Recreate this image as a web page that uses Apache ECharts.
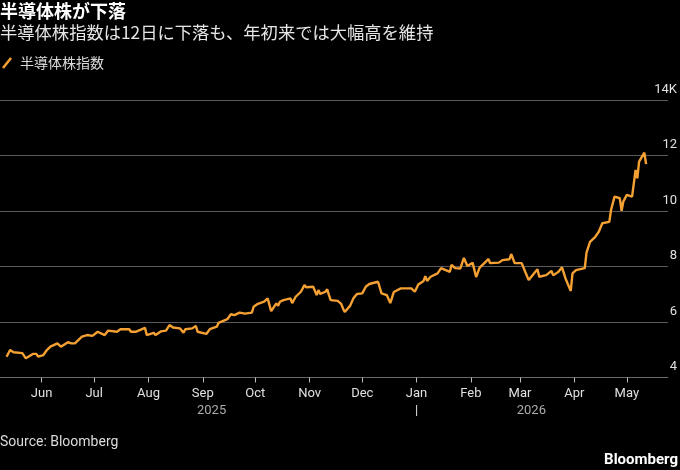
<!DOCTYPE html>
<html><head><meta charset="utf-8">
<script src="https://cdn.jsdelivr.net/npm/echarts@6/dist/echarts.min.js"></script>
<style>html,body{margin:0;padding:0;background:#000;}#c{width:680px;height:470px;}</style>
</head><body><div id="c"></div>
<script>
const dates = [
'2025-05-12','2025-05-14','2025-05-16','2025-05-21','2025-05-23','2025-05-27','2025-05-29','2025-05-30',
'2025-06-02','2025-06-04','2025-06-06','2025-06-10','2025-06-12','2025-06-16','2025-06-18','2025-06-20','2025-06-24','2025-06-27','2025-06-30',
'2025-07-03','2025-07-07','2025-07-09','2025-07-14','2025-07-16','2025-07-21','2025-07-22','2025-07-25','2025-07-30','2025-07-31',
'2025-08-04','2025-08-05','2025-08-08','2025-08-11','2025-08-13','2025-08-15','2025-08-19','2025-08-21','2025-08-22','2025-08-26','2025-08-28','2025-08-29',
'2025-09-03','2025-09-05','2025-09-09','2025-09-10','2025-09-15','2025-09-17','2025-09-19','2025-09-22','2025-09-25','2025-09-29','2025-09-30',
'2025-10-02','2025-10-06','2025-10-07','2025-10-08','2025-10-09','2025-10-10','2025-10-13','2025-10-14','2025-10-15','2025-10-17','2025-10-21','2025-10-22','2025-10-24','2025-10-27','2025-10-29','2025-10-30','2025-10-31',
'2025-11-03','2025-11-04','2025-11-05','2025-11-06','2025-11-07','2025-11-10','2025-11-11','2025-11-12','2025-11-13','2025-11-17','2025-11-19','2025-11-20','2025-11-21','2025-11-24','2025-11-26','2025-11-28',
'2025-12-01','2025-12-03','2025-12-05','2025-12-10','2025-12-12','2025-12-15','2025-12-17','2025-12-19','2025-12-23','2025-12-29','2025-12-31',
'2026-01-02','2026-01-05','2026-01-06','2026-01-07','2026-01-09','2026-01-13','2026-01-15','2026-01-20','2026-01-21','2026-01-23','2026-01-26','2026-01-28','2026-01-30',
'2026-02-02','2026-02-04','2026-02-06','2026-02-09','2026-02-11','2026-02-12','2026-02-13','2026-02-17','2026-02-19','2026-02-23','2026-02-24','2026-02-26',
'2026-03-02','2026-03-04','2026-03-06','2026-03-09','2026-03-11','2026-03-12','2026-03-16','2026-03-19','2026-03-20','2026-03-23','2026-03-25','2026-03-27','2026-03-30','2026-03-31',
'2026-04-02','2026-04-07','2026-04-08','2026-04-10','2026-04-13','2026-04-15','2026-04-17','2026-04-21','2026-04-22','2026-04-24','2026-04-27','2026-04-28','2026-04-29',
'2026-05-01','2026-05-04','2026-05-06','2026-05-07','2026-05-08','2026-05-11','2026-05-12'
];
const values = [
4750,4990,4910,4880,4690,4850,4850,4750,
4810,4990,5110,5230,5110,5270,5230,5230,5470,5530,5500,
5650,5530,5690,5650,5740,5740,5650,5650,5790,5530,
5610,5530,5660,5690,5890,5800,5770,5610,5740,5770,5860,5650,
5570,5740,5830,5970,6100,6280,6250,6340,6300,6340,6550,
6640,6730,6670,6850,6880,6390,6670,6580,6730,6790,6850,6680,6910,7090,7330,7250,7210,
7270,7300,6970,7150,7010,7090,7180,6970,6790,6760,6650,6490,6360,6580,6860,7010,
7030,7270,7370,7450,7030,6970,6680,7080,7210,7210,7090,
7350,7480,7650,7480,7630,7750,7940,7810,8060,7940,7930,8310,8020,
8130,7620,7960,8140,8270,8120,8140,8140,8230,8260,8450,8120,
8120,7810,7510,7750,7900,7630,7690,7840,7680,7810,7970,7570,7120,7750,
7870,7940,8500,8890,9070,9250,9560,9610,10040,10520,10460,10010,10340,
10580,10520,11480,11180,11780,12100,11690
];
const seriesName = '半導体株指数';
const yTicks = [4000, 6000, 8000, 10000, 12000, 14000];
const monthLabels = ['Jan','Feb','Mar','Apr','May','Jun','Jul','Aug','Sep','Oct','Nov','Dec'];
const yearLabels = ['2025', '2026'];
const titleText = '半導体株が下落';
const subtitleText = '半導体株指数は12日に下落も、年初来では大幅高を維持';
const sourceText = 'Source: Bloomberg';

function ts(s){const p=s.split('-').map(Number);return Date.UTC(p[0],p[1]-1,p[2]);}
const data = dates.map((d,i)=>[ts(d), values[i]]);

const chart = echarts.init(document.getElementById('c'), null, {renderer:'canvas'});
const latin = 'Roboto, "Noto Sans CJK JP", sans-serif';
const cjk = '"Noto Sans CJK JP", sans-serif';
chart.setOption({
  backgroundColor:'#000',
  animation:false,
  useUTC:true,
  title:[
    {text:titleText, subtext:subtitleText, left:0, top:1, padding:0, itemGap:1,
     textStyle:{fontFamily:cjk, fontSize:18, fontWeight:'bold', color:'#fff', lineHeight:20},
     subtextStyle:{fontFamily:cjk, fontSize:17.3, color:'#e6e6e6', lineHeight:20}},
    {text:sourceText, left:0, top:434, padding:0,
     textStyle:{fontFamily:latin, fontSize:14, fontWeight:'normal', color:'#dcdcdc', lineHeight:16}},
    {text:'Bloomberg', right:2, top:452, padding:0,
     textStyle:{fontFamily:latin, fontSize:15, fontWeight:'bold', color:'#fff', lineHeight:16}}
  ],
  legend:{left:2, top:56, itemWidth:10, itemHeight:12, padding:0,
    data:[{name:seriesName, icon:'path://M0,10 L8,0 L10,1.6 L2,11.6 Z'}],
    textStyle:{fontFamily:cjk, fontSize:14, color:'#dcdcdc', padding:[0,0,0,3]}},
  grid:{left:0, right:11, top:100, bottom:92.5, containLabel:false},
  xAxis:{type:'time',
    min:Date.UTC(2025,4,8,6), max:Date.UTC(2026,4,24,12),
    minInterval:28*86400000, maxInterval:31*86400000,
    axisLine:{show:true, lineStyle:{color:'#6a6a6a', width:1}},
    axisTick:{show:true, length:5, lineStyle:{color:'#bdbdbd'}},
    splitLine:{show:false},
    axisLabel:{fontFamily:latin, fontSize:13, color:'#e0e0e0', margin:8, lineHeight:17,
      hideOverlap:false,
      formatter:function(v){const d=new Date(v);const m=d.getUTCMonth();return monthLabels[m]+(m===0?'\n|':'');}}
  },
  yAxis:{type:'value', position:'right', min:yTicks[0], max:yTicks[yTicks.length-1], interval:2000,
    axisLine:{show:false}, axisTick:{show:false},
    splitLine:{show:true, lineStyle:{color:'#5a5a5a', width:1}},
    axisLabel:{fontFamily:latin, fontSize:13, color:'#e0e0e0', align:'right', verticalAlign:'bottom', margin:9,
      padding:[0,0,4,0],
      formatter:function(v){return (v/1000)+(v===yTicks[yTicks.length-1]?'K':'');}}
  },
  series:[{name:seriesName, type:'line', data:data, showSymbol:false, symbol:'none',
    lineStyle:{color:'#f5a033', width:2.4}, itemStyle:{color:'#f5a033'}}]
});

// year labels centered on each year's portion of the data
const firstT = data[0][0], lastT = data[data.length-1][0], yearT = Date.UTC(2026,0,1);
const x0 = chart.convertToPixel({xAxisIndex:0}, firstT);
const x1 = chart.convertToPixel({xAxisIndex:0}, yearT);
const x2 = chart.convertToPixel({xAxisIndex:0}, lastT);
const yBase = chart.convertToPixel({yAxisIndex:0}, yTicks[0]);
chart.setOption({graphic:[
  {type:'text', x:(x0+x1)/2, y:yBase+33, style:{text:yearLabels[0], fill:'#ababab', font:'13px '+latin, align:'center', verticalAlign:'middle'}},
  {type:'text', x:(x1+x2)/2, y:yBase+33, style:{text:yearLabels[1], fill:'#ababab', font:'13px '+latin, align:'center', verticalAlign:'middle'}}
]});
</script></body></html>
